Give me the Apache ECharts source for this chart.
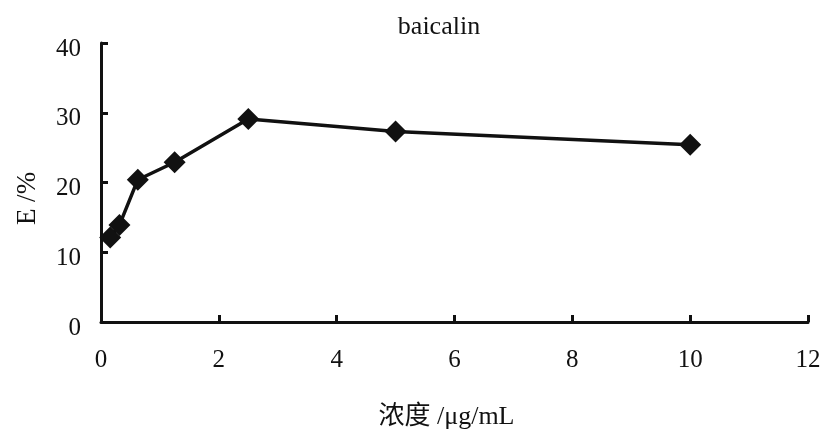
<!DOCTYPE html>
<html><head><meta charset="utf-8">
<script src="https://cdn.jsdelivr.net/npm/echarts@6/dist/echarts.min.js"></script>
<style>html,body{margin:0;padding:0;background:#fff}#c{width:826px;height:432px}</style>
</head><body><div id="c"></div>
<script>
const concentrations = [0.156, 0.3125, 0.625, 1.25, 2.5, 5, 10];
const efficiency = [12.1, 13.9, 20.4, 22.9, 29.1, 27.3, 25.4];
const errors = [0.9, 0.8, 0.8, 0.6, 0.7, 0.8, 1.1];
const xTicks = [0, 2, 4, 6, 8, 10, 12];
const yTicks = [0, 10, 20, 30, 40];

const font = '"Liberation Serif", "Times New Roman", serif';
const chart = echarts.init(document.getElementById('c'));
chart.setOption({
  animation: false,
  title: { text: 'baicalin', left: 434, top: 9, textAlign: 'center',
    textStyle: { fontFamily: font, fontSize: 26, fontWeight: 'normal', color: '#111' } },
  grid: { left: 101, right: 18, top: 43, bottom: 110, outerBoundsMode: 'none', containLabel: false },
  xAxis: {
    type: 'value', min: xTicks[0], max: xTicks[xTicks.length - 1], interval: 2,
    name: '浓度 /μg/mL', nameLocation: 'middle', nameGap: 82,
    nameTextStyle: { fontFamily: '"Liberation Serif", "Noto Sans CJK SC", serif', fontSize: 26, color: '#111', padding: [0, 16, 0, 0] },
    axisLine: { show: true, lineStyle: { color: '#111', width: 3 } },
    axisTick: { show: true, inside: true, length: 7, lineStyle: { color: '#111', width: 3 } },
    axisLabel: { fontFamily: font, fontSize: 25, color: '#111', margin: 26 },
    splitLine: { show: false }
  },
  yAxis: {
    type: 'value', min: yTicks[0], max: yTicks[yTicks.length - 1], interval: 10,
    name: 'E /%', nameLocation: 'middle', nameGap: 60,
    nameTextStyle: { fontFamily: font, fontSize: 27, color: '#111', padding: [0, 32, 0, 0] },
    axisLine: { show: true, lineStyle: { color: '#111', width: 3 } },
    axisTick: { show: true, inside: true, length: 7, lineStyle: { color: '#111', width: 3 } },
    axisLabel: { fontFamily: font, fontSize: 25, color: '#111', margin: 20, verticalAlign: 'top', lineHeight: 12 },
    splitLine: { show: false }
  },
  series: [
    {
      type: 'custom',
      data: concentrations.map((x, i) => [x, efficiency[i] - errors[i], efficiency[i] + errors[i]]),
      renderItem: (params, api) => {
        const lo = api.coord([api.value(0), api.value(1)]);
        const hi = api.coord([api.value(0), api.value(2)]);
        return { type: 'line', shape: { x1: lo[0], y1: lo[1], x2: hi[0], y2: hi[1] },
          style: { stroke: '#111', lineWidth: 2 } };
      },
      z: 1
    },
    {
      type: 'line',
      data: concentrations.map((x, i) => [x, efficiency[i]]),
      symbol: 'diamond', symbolSize: [22, 22],
      lineStyle: { color: '#111', width: 3.5 },
      itemStyle: { color: '#111' },
      z: 2
    }
  ]
});
</script></body></html>
